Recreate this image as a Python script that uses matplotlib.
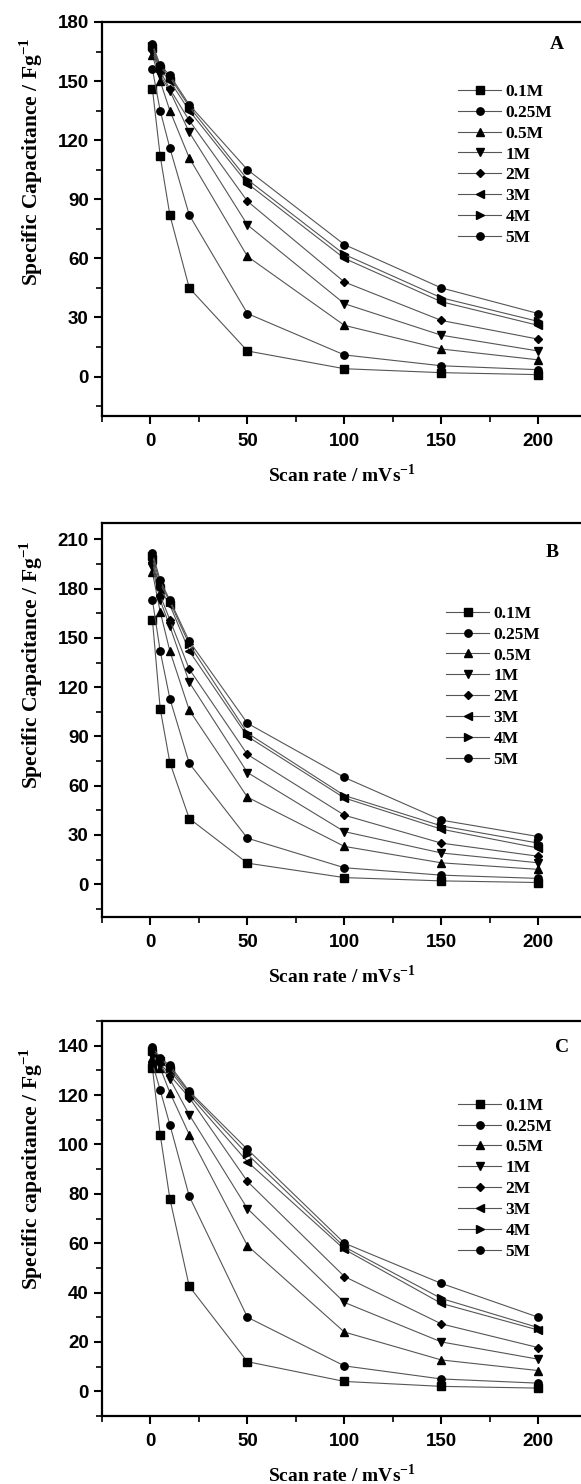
"""
Specific capacitance vs scan rate for different electrolyte concentrations (panels A, B, C).
"""
import numpy as np
import matplotlib
matplotlib.use("Agg")
import matplotlib.pyplot as plt
from matplotlib.ticker import MultipleLocator

plt.rcParams["mathtext.fontset"] = "custom"
plt.rcParams["mathtext.rm"] = "Liberation Serif"
plt.rcParams["mathtext.bf"] = "Liberation Serif:bold"

scan_rate = [1, 5, 10, 20, 50, 100, 150, 200]
labels = ["0.1M", "0.25M", "0.5M", "1M", "2M", "3M", "4M", "5M"]
markers = ["s", "o", "^", "v", "D", "<", ">", "o"]

cap_a = [
    [146, 112, 82, 45, 13, 4, 2, 1],
    [156, 135, 116, 82, 32, 11, 5.5, 3.5],
    [163, 150, 135, 111, 61, 26, 14, 8.5],
    [165, 153, 145, 124, 77, 37, 21, 13],
    [166, 155, 146, 130, 89, 48, 28.5, 19],
    [167, 156, 150, 135, 98, 60, 38, 26],
    [168, 157, 152, 137, 100, 62, 40, 28],
    [169, 158, 153, 138, 105, 67, 45, 32],
]
cap_b = [
    [161, 107, 74, 40, 12.8, 4, 2, 1],
    [173, 142, 113, 73.6, 28, 10, 5.5, 3.5],
    [190, 166, 142, 106, 53, 23, 13, 9],
    [193, 173, 157, 123, 68, 32, 19, 13],
    [196, 176, 161, 131, 79, 42, 25, 17],
    [198, 180, 170, 142, 90, 52.5, 33.5, 22],
    [200, 183, 172, 146, 92, 54, 35.5, 25],
    [202, 185, 173, 148, 98, 65, 39, 29],
]
cap_c = [
    [131, 104, 78, 42.5, 12, 4, 2, 1.3],
    [133, 122, 108, 79, 30, 10.3, 5, 3.3],
    [135, 131, 121, 104, 59, 24, 12.7, 8.4],
    [136, 132, 126.5, 112, 74, 36, 20, 13],
    [139, 133, 128, 119, 85, 46.5, 27.3, 17.7],
    [137, 134, 130, 120, 93, 57.5, 35.6, 24.8],
    [138, 135, 131, 121, 96, 58.5, 37.6, 25.8],
    [139.5, 135, 132, 121.5, 98, 60, 43.7, 30],
]

serif_bold = {"family": "Liberation Serif", "weight": "bold"}


def draw_panel(ax, data, letter, ylim, ystep, ylabel, legend_anchor,
               letter_pos, ylabel_y):
    x = np.asarray(scan_rate, dtype=float)
    for vals, lab, mk in zip(data, labels, markers):
        ms = 4.5 if mk == "D" else 5.3
        ax.plot(x, vals, color="#555555", linewidth=0.8, marker=mk,
                markersize=ms, markerfacecolor="black",
                markeredgecolor="black", label=lab)

    ax.set_xlim(-25, 222)
    ax.set_ylim(*ylim)
    ax.xaxis.set_major_locator(MultipleLocator(50))
    ax.xaxis.set_minor_locator(MultipleLocator(25))
    ax.yaxis.set_major_locator(MultipleLocator(ystep))
    ax.yaxis.set_minor_locator(MultipleLocator(ystep / 2))
    ax.tick_params(which="major", direction="out", length=6, width=1.5)
    ax.tick_params(which="minor", direction="out", length=4, width=1.2)
    ax.tick_params(axis="both", labelsize=13.5)
    ax.tick_params(axis="x", pad=6)
    for lbl in ax.get_xticklabels() + ax.get_yticklabels():
        lbl.set_fontfamily("Liberation Sans")
        lbl.set_fontweight("bold")

    ax.spines["right"].set_visible(False)
    for side in ("left", "bottom", "top"):
        ax.spines[side].set_linewidth(1.6)

    ax.set_xlabel(r"Scan rate / mVs$^{\mathbf{-1}}$", fontdict=serif_bold,
                  fontsize=14, labelpad=10)
    ax.set_ylabel(ylabel, fontdict=serif_bold, fontsize=15.5)
    ax.yaxis.set_label_coords(-0.118, ylabel_y)

    ax.text(letter_pos[0], letter_pos[1], letter, transform=ax.transAxes,
            ha="center", va="center", fontsize=14, **serif_bold)

    leg = ax.legend(loc="upper left", bbox_to_anchor=legend_anchor,
                    frameon=False, borderpad=0, borderaxespad=0,
                    handlelength=2.5, handletextpad=0.25, labelspacing=0.27,
                    prop={"family": "Liberation Serif", "weight": "bold",
                          "size": 12.5})
    return leg


fig = plt.figure(figsize=(5.81, 14.84), dpi=100)
W, H = 581, 1484
left = 102 / W
width = 479 / W

ax_a = fig.add_axes([left, 1 - 416 / H, width, 394 / H])
ax_b = fig.add_axes([left, 1 - 917 / H, width, 394 / H])
ax_c = fig.add_axes([left, 1 - 1416 / H, width, 395 / H])

draw_panel(ax_a, cap_a, "A", (-20, 180), 30,
           r"Specific Capacitance / Fg$^{\mathbf{-1}}$",
           (0.743, 0.843), (0.95, 0.942), 0.645)
draw_panel(ax_b, cap_b, "B", (-20, 220), 30,
           r"Specific Capacitance / Fg$^{\mathbf{-1}}$",
           (0.718, 0.79), (0.94, 0.926), 0.64)
draw_panel(ax_c, cap_c, "C", (-10, 150), 20,
           r"Specific capacitance / Fg$^{\mathbf{-1}}$",
           (0.743, 0.806), (0.96, 0.932), 0.625)

fig.savefig("out.png", dpi=100)
